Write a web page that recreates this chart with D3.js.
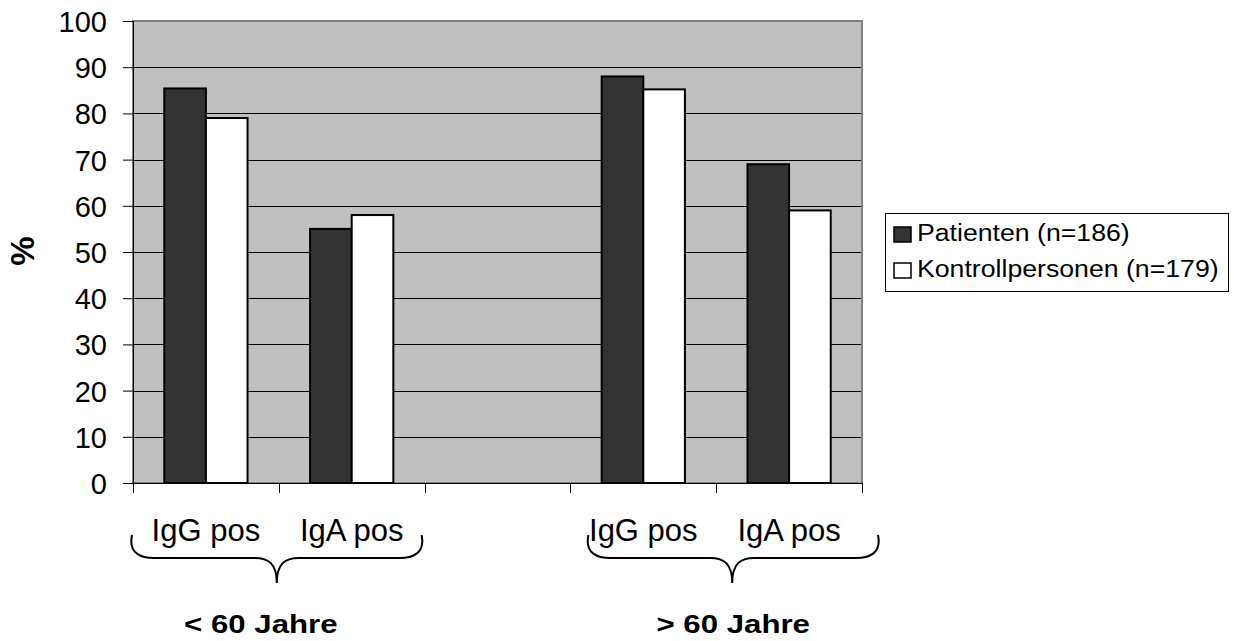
<!DOCTYPE html>
<html><head><meta charset="utf-8">
<script src="https://cdn.jsdelivr.net/npm/d3@7"></script>
<style>html,body{margin:0;padding:0;background:#fff}svg{display:block}text{font-family:"Liberation Sans",Arial,sans-serif}</style>
</head><body>
<script>
const categories = ["IgG pos", "IgA pos", "", "IgG pos", "IgA pos"];
const seriesNames = ["Patienten (n=186)", "Kontrollpersonen (n=179)"];
const patienten = [85.4, 55, null, 88, 69];
const kontroll = [79, 58, null, 85.2, 59];
const yTicks = [0,10,20,30,40,50,60,70,80,90,100];
const groups = [{label: "< 60 Jahre", from: 0, to: 1}, {label: "> 60 Jahre", from: 3, to: 4}];

const W = 1239, H = 641;
const m = {left: 133, right: 862, top: 21, bottom: 483};
const svg = d3.select("body").append("svg").attr("width", W).attr("height", H);

const x = d3.scaleBand().domain(d3.range(categories.length)).range([m.left, m.right]).padding(0);
const y = d3.scaleLinear().domain([0, 100]).range([m.bottom, m.top]);
const barW = x.bandwidth() * 0.2855;
const xs = d3.scaleBand().domain([0, 1]).range([x.bandwidth()/2 - barW, x.bandwidth()/2 + barW]);
const fills = ["#333333", "#ffffff"];

// plot background
svg.append("rect").attr("x", m.left).attr("y", m.top).attr("width", m.right - m.left).attr("height", m.bottom - m.top)
  .attr("fill", "#c0c0c0");
// gridlines
svg.append("g").selectAll("line").data(yTicks.filter(t => t > 0 && t < 100)).join("line")
  .attr("x1", m.left).attr("x2", m.right).attr("y1", d => Math.round(y(d)) + 0.5).attr("y2", d => Math.round(y(d)) + 0.5)
  .attr("stroke", "#000").attr("stroke-width", 1);
// border
svg.append("rect").attr("x", m.left).attr("y", m.top).attr("width", m.right - m.left).attr("height", m.bottom - m.top)
  .attr("fill", "none").attr("stroke", "#808080").attr("stroke-width", 2);

// bars
const data = [];
categories.forEach((c, i) => {
  [patienten[i], kontroll[i]].forEach((v, s) => { if (v != null) data.push({i, s, v}); });
});
svg.append("g").selectAll("rect").data(data).join("rect")
  .attr("x", d => x(d.i) + xs(d.s)).attr("width", xs.bandwidth())
  .attr("y", d => y(d.v)).attr("height", d => y(0) - y(d.v))
  .attr("fill", d => fills[d.s]).attr("stroke", "#000").attr("stroke-width", 2);

// y axis
const yAxis = d3.axisLeft(y).tickValues(yTicks).tickSize(10).tickPadding(16);
const gy = svg.append("g").attr("transform", `translate(${m.left},0)`).call(yAxis);
gy.select(".domain").attr("stroke", "#000").attr("stroke-width", 1);
gy.selectAll(".tick line").attr("stroke", "#000");
gy.selectAll(".tick text").attr("font-size", 29).attr("fill", "#000").attr("dy", "0.36em")
  .attr("font-family", '"Liberation Sans", Arial, sans-serif');

// x axis (ticks at band boundaries)
const xb = d3.range(categories.length + 1).map(i => i < categories.length ? x(i) : x(categories.length - 1) + x.bandwidth());
const gx = svg.append("g");
gx.append("line").attr("x1", m.left).attr("x2", m.right).attr("y1", m.bottom + 0.5).attr("y2", m.bottom + 0.5).attr("stroke", "#000");
gx.selectAll("line.t").data(xb).join("line").attr("class", "t")
  .attr("x1", d => Math.round(d) + 0.5).attr("x2", d => Math.round(d) + 0.5)
  .attr("y1", m.bottom).attr("y2", m.bottom + 10).attr("stroke", "#000");
gx.selectAll("text").data(categories.map((c, i) => ({c, i})).filter(d => d.c)).join("text")
  .attr("x", d => x(d.i) + x.bandwidth()/2).attr("y", 541).attr("text-anchor", "middle")
  .attr("font-size", 31).attr("fill", "#000").text(d => d.c);

// y title
svg.append("text").attr("transform", "translate(34,251) rotate(-90)").attr("text-anchor", "middle")
  .attr("font-size", 33).attr("font-weight", "bold").text("%");

// braces and group labels
const braceOffsets = [{l: -1, r: -3, c: -2, t: -16}, {l: 18, r: 16, c: 16, t: 1}];
groups.forEach((g, k) => {
  const o = braceOffsets[k];
  const x0 = x(g.from) + o.l, x1 = x(g.to) + x.bandwidth() + o.r;
  const xc = x(g.to) + o.c;
  const yt = 535, ym = 558, yp = 583;
  const p = d3.path();
  p.moveTo(x0, yt);
  p.bezierCurveTo(x0 - 4, ym - 4, x0 + 10, ym, x0 + 22, ym);
  p.lineTo(xc - 22, ym);
  p.bezierCurveTo(xc - 8, ym, xc, ym + 6, xc, yp);
  p.bezierCurveTo(xc, ym + 6, xc + 8, ym, xc + 22, ym);
  p.lineTo(x1 - 22, ym);
  p.bezierCurveTo(x1 - 10, ym, x1 + 4, ym - 4, x1, yt);
  svg.append("path").attr("d", p.toString()).attr("fill", "none").attr("stroke", "#000").attr("stroke-width", 2);
  svg.append("text").attr("transform", `translate(${xc + o.t},633) scale(1.2,1)`).attr("text-anchor", "middle")
    .attr("font-size", 26).attr("font-weight", "bold").text(g.label);
});

// legend
const lg = svg.append("g");
lg.append("rect").attr("x", 885.5).attr("y", 213.5).attr("width", 343).attr("height", 78)
  .attr("fill", "#fff").attr("stroke", "#000").attr("stroke-width", 1);
seriesNames.forEach((n, s) => {
  const ly = 241 + s * 36;
  lg.append("rect").attr("x", 894).attr("y", ly - 14).attr("width", 17).attr("height", 15)
    .attr("fill", fills[s]).attr("stroke", "#000").attr("stroke-width", 1.5);
  lg.append("text").attr("transform", `translate(917,${ly}) scale(1.16,1)`).attr("font-size", 23).text(n);
});
</script>
</body></html>
